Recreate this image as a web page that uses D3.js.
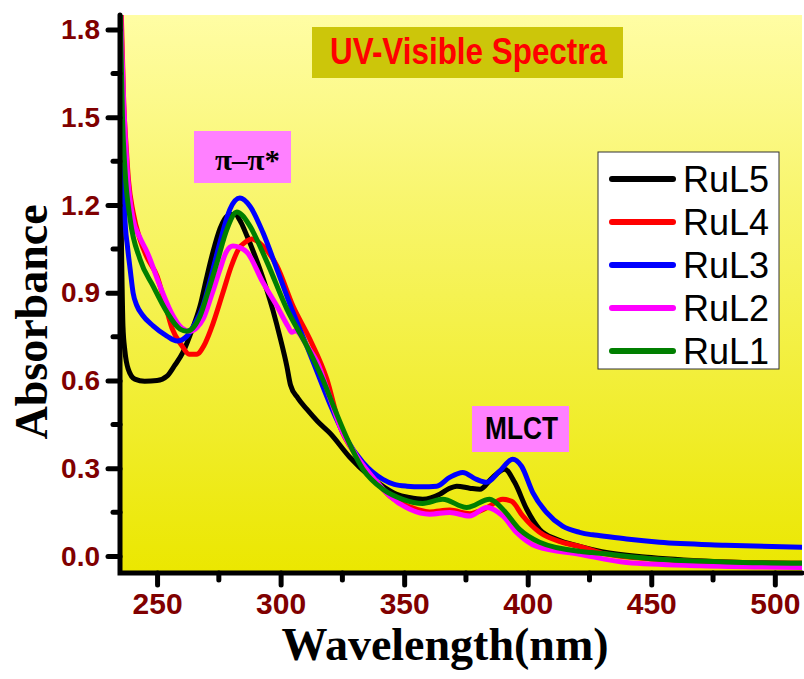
<!DOCTYPE html>
<html>
<head>
<meta charset="utf-8">
<script src="https://cdn.jsdelivr.net/npm/d3@7"></script>
<style>
  body { margin: 0; background: #fff; }
  svg { display: block; }
</style>
</head>
<body>
<div id="canvas"></div>
<script>
// series, [wavelength nm, absorbance]
const ruL5 = [[235,1.4],[235.8,0.95],[236.2,0.786],[237,0.70],[238.3,0.64],[241,0.605],[245,0.598],[250,0.60],[254,0.615],[257,0.65],[260.5,0.697],[264,0.77],[267.4,0.855],[270,0.95],[272.6,1.039],[275.5,1.12],[278.3,1.162],[281.5,1.169],[284,1.14],[286.4,1.094],[291.6,0.981],[296.9,0.84],[300,0.74],[302.5,0.65],[304,0.585],[307,0.54],[310.6,0.502],[315,0.46],[320,0.42],[328,0.338],[336,0.273],[342,0.235],[347,0.211],[352,0.2],[357.5,0.194],[364.4,0.211],[368,0.23],[371.3,0.239],[376.5,0.232],[380.6,0.228],[385.8,0.269],[390.7,0.297],[394.7,0.252],[399.6,0.16],[404.8,0.091],[411.7,0.057],[421,0.033],[430,0.015],[450,-0.005],[480,-0.02],[511,-0.025]];
const ruL4 = [[235,1.95],[235.5,1.86],[236.5,1.55],[237.5,1.40],[238.5,1.28],[240.3,1.176],[243,1.084],[246,1.02],[250,0.957],[253,0.87],[256,0.78],[260,0.72],[263,0.69],[266,0.69],[269,0.72],[272,0.78],[276.7,0.902],[280,0.99],[283,1.05],[286,1.075],[288.4,1.084],[292.8,1.06],[298.5,0.992],[305,0.855],[311.8,0.742],[318.7,0.605],[324,0.444],[330.8,0.342],[337.3,0.27],[344.2,0.205],[352.3,0.168],[360.3,0.151],[368.4,0.157],[376.5,0.145],[383.4,0.165],[389.9,0.194],[393.5,0.187],[398,0.137],[404.8,0.081],[414,0.047],[421,0.033],[430,0.01],[450,-0.01],[480,-0.02],[511,-0.025]];
const ruL3 = [[235,1.9],[235.9,1.495],[237,1.152],[238,1.06],[239.1,0.981],[240.3,0.9],[241.9,0.855],[244,0.825],[248.4,0.787],[254,0.752],[258.1,0.735],[262.1,0.752],[265,0.79],[268.6,0.855],[272,0.96],[275.5,1.074],[279.5,1.186],[283.5,1.224],[287.6,1.196],[292.8,1.107],[298.5,0.981],[305,0.834],[310.6,0.718],[315.9,0.605],[320,0.519],[326,0.41],[333.3,0.32],[341.4,0.262],[346,0.245],[351.1,0.239],[357,0.237],[363.2,0.239],[368.4,0.269],[373.7,0.286],[379.3,0.262],[383.4,0.252],[388.6,0.29],[393.9,0.331],[397.5,0.307],[402,0.218],[407.6,0.149],[414.1,0.102],[421,0.081],[425,0.074],[427,0.072],[440,0.058],[453.3,0.047],[480,0.037],[511,0.03]];
const ruL2 = [[235,1.95],[235.5,1.80],[236.5,1.55],[237.9,1.323],[240.3,1.152],[243,1.09],[246,1.039],[251.2,0.923],[256.5,0.821],[260,0.78],[263.3,0.769],[266,0.78],[268.6,0.81],[272,0.89],[275.5,0.981],[278,1.04],[280.7,1.06],[283.5,1.055],[286.4,1.039],[292.8,0.936],[298.5,0.855],[303,0.785],[304.5,0.765],[306,0.77],[310.6,0.72],[315,0.66],[320,0.54],[324,0.444],[330.8,0.342],[337.3,0.27],[344.2,0.205],[352.3,0.16],[360.3,0.143],[368.4,0.149],[376.5,0.137],[383.4,0.166],[389.9,0.137],[395.5,0.081],[403.6,0.033],[421,0.006],[440,-0.022],[470,-0.033],[511,-0.039]];
const ruL1 = [[235,1.95],[235.4,1.73],[236,1.5],[237,1.323],[239.1,1.152],[243.1,1.015],[248.4,0.923],[254,0.834],[259.3,0.776],[262.1,0.769],[264.5,0.78],[267.4,0.821],[270.5,0.9],[274.3,1.005],[278.3,1.118],[282.3,1.176],[284.5,1.165],[287.6,1.128],[294.5,1.005],[302.5,0.845],[310.6,0.718],[317,0.605],[322,0.5],[327,0.4],[333.3,0.297],[341.4,0.228],[349.4,0.194],[357.5,0.18],[365.6,0.194],[375.3,0.166],[384.6,0.194],[389.9,0.16],[396.7,0.091],[404.8,0.047],[421,0.016],[426,0.012],[453,-0.011],[480,-0.02],[511,-0.025]];

const seriesNames = ["RuL5", "RuL4", "RuL3", "RuL2", "RuL1"];
const seriesData = [ruL5, ruL4, ruL3, ruL2, ruL1];
const seriesColors = ["#000000", "#ff0000", "#0000ff", "#ff00ff", "#007f00"];

const yTicks = [0, 0.3, 0.6, 0.9, 1.2, 1.5, 1.8];
const yMinor = [0.15, 0.45, 0.75, 1.05, 1.35, 1.65];
const xTicks = [250, 300, 350, 400, 450, 500];
const xMinor = [275, 325, 375, 425, 475];

const width = 804, height = 679;
const pLeft = 120, pRight = 802, pTop = 15, pBottom = 573;

const svg = d3.select("#canvas")
    .append("svg")
    .attr("width", width)
    .attr("height", height);

const x = d3.scaleLinear().domain([235, 511]).range([pLeft, pRight]);
const y = d3.scaleLinear().domain([-0.058, 1.85]).range([pBottom, pTop]);

// background gradient
const defs = svg.append("defs");
const grad = defs.append("linearGradient")
    .attr("id", "bg").attr("x1", 0).attr("y1", 0).attr("x2", 0).attr("y2", 1);
grad.append("stop").attr("offset", "0%").attr("stop-color", "#fffda4");
grad.append("stop").attr("offset", "100%").attr("stop-color", "#ebe700");
defs.append("clipPath").attr("id", "plotclip")
    .append("rect").attr("x", pLeft).attr("y", pTop)
    .attr("width", pRight - pLeft).attr("height", pBottom - pTop);

svg.append("rect")
    .attr("x", pLeft).attr("y", pTop)
    .attr("width", pRight - pLeft).attr("height", pBottom - pTop)
    .attr("fill", "url(#bg)");

// Title box
svg.append("rect")
    .attr("x", 312).attr("y", 27).attr("width", 311).attr("height", 51)
    .attr("fill", "#ccc60a");
svg.append("text")
    .attr("x", 330).attr("y", 64)
    .attr("textLength", 277).attr("lengthAdjust", "spacingAndGlyphs")
    .style("font", "bold 37px 'Liberation Sans', Arial, sans-serif")
    .style("fill", "#ff0000")
    .text("UV-Visible Spectra");

// annotation boxes
svg.append("rect")
    .attr("x", 194).attr("y", 131).attr("width", 97).attr("height", 52)
    .attr("fill", "#ff80ff");
svg.append("text")
    .attr("x", 215).attr("y", 170)
    .attr("textLength", 65).attr("lengthAdjust", "spacingAndGlyphs")
    .style("font", "bold 30px 'Liberation Serif', 'Times New Roman', serif")
    .text("π–π*");

svg.append("rect")
    .attr("x", 472).attr("y", 406).attr("width", 97).attr("height", 46)
    .attr("fill", "#ff80ff");
svg.append("text")
    .attr("x", 485).attr("y", 439)
    .attr("textLength", 73).attr("lengthAdjust", "spacingAndGlyphs")
    .style("font", "bold 31px 'Liberation Sans', Arial, sans-serif")
    .text("MLCT");

// curves
const line = d3.line()
    .x(d => x(d[0]))
    .y(d => y(d[1]))
    .curve(d3.curveMonotoneX);

svg.append("g")
    .attr("clip-path", "url(#plotclip)")
    .selectAll("path")
    .data(seriesData)
    .enter()
    .append("path")
    .attr("d", line)
    .attr("fill", "none")
    .attr("stroke", (d, i) => seriesColors[i])
    .attr("stroke-width", 5)
    .attr("stroke-linejoin", "round")
    .attr("stroke-linecap", "round");

// axes
const labelFont = "bold 28px 'Liberation Sans', Arial, sans-serif";

const yAxis = svg.append("g")
    .attr("transform", `translate(${pLeft},0)`)
    .call(d3.axisLeft(y).tickValues(yTicks).tickSize(12).tickSizeOuter(0)
        .tickPadding(8).tickFormat(d3.format(".1f")));
yAxis.append("g").selectAll("line")
    .data(yMinor).enter().append("line")
    .attr("x1", 0).attr("x2", -7)
    .attr("y1", d => y(d)).attr("y2", d => y(d));

const xAxis = svg.append("g")
    .attr("transform", `translate(0,${pBottom})`)
    .call(d3.axisBottom(x).tickValues(xTicks).tickSize(12).tickSizeOuter(0)
        .tickPadding(8).tickFormat(d3.format("d")));
xAxis.append("g").selectAll("line")
    .data(xMinor).enter().append("line")
    .attr("y1", 0).attr("y2", 7)
    .attr("x1", d => x(d)).attr("x2", d => x(d));

[yAxis, xAxis].forEach(g => {
    g.select(".domain").remove();
    g.selectAll("line")
        .attr("stroke", "#000")
        .attr("stroke-width", 5)
        .attr("stroke-linecap", "round");
    g.selectAll("text")
        .style("font", labelFont)
        .attr("fill", "#800000");
});
xAxis.selectAll("text").style("font-size", "30px");

// axis lines
svg.append("path")
    .attr("d", `M${pLeft},${pTop}V${pBottom}H${pRight}`)
    .attr("fill", "none")
    .attr("stroke", "#000")
    .attr("stroke-width", 5)
    .attr("stroke-linecap", "round")
    .attr("stroke-linejoin", "miter");

// axis titles
svg.append("text")
    .attr("x", 445).attr("y", 660)
    .attr("text-anchor", "middle")
    .style("font", "bold 46px 'Liberation Serif', 'Times New Roman', serif")
    .text("Wavelength(nm)");
svg.append("text")
    .attr("transform", "translate(47,322) rotate(-90)")
    .attr("text-anchor", "middle")
    .style("font", "bold 46px 'Liberation Serif', 'Times New Roman', serif")
    .text("Absorbance");

// legend
const legend = svg.append("g");
legend.append("rect")
    .attr("x", 598).attr("y", 152).attr("width", 181).attr("height", 217)
    .attr("fill", "#fff").attr("stroke", "#333").attr("stroke-width", 1);
const rowY = d3.scalePoint().domain(seriesNames).range([179, 351]);
const rows = legend.selectAll("g.row")
    .data(seriesNames).enter().append("g")
    .attr("transform", d => `translate(0,${rowY(d)})`);
rows.append("line")
    .attr("x1", 612).attr("x2", 673)
    .attr("stroke", (d, i) => seriesColors[i])
    .attr("stroke-width", 6)
    .attr("stroke-linecap", "round");
rows.append("text")
    .attr("x", 683).attr("y", 13)
    .style("font", "36px 'Liberation Sans', Arial, sans-serif")
    .text(d => d);
</script>
</body>
</html>
